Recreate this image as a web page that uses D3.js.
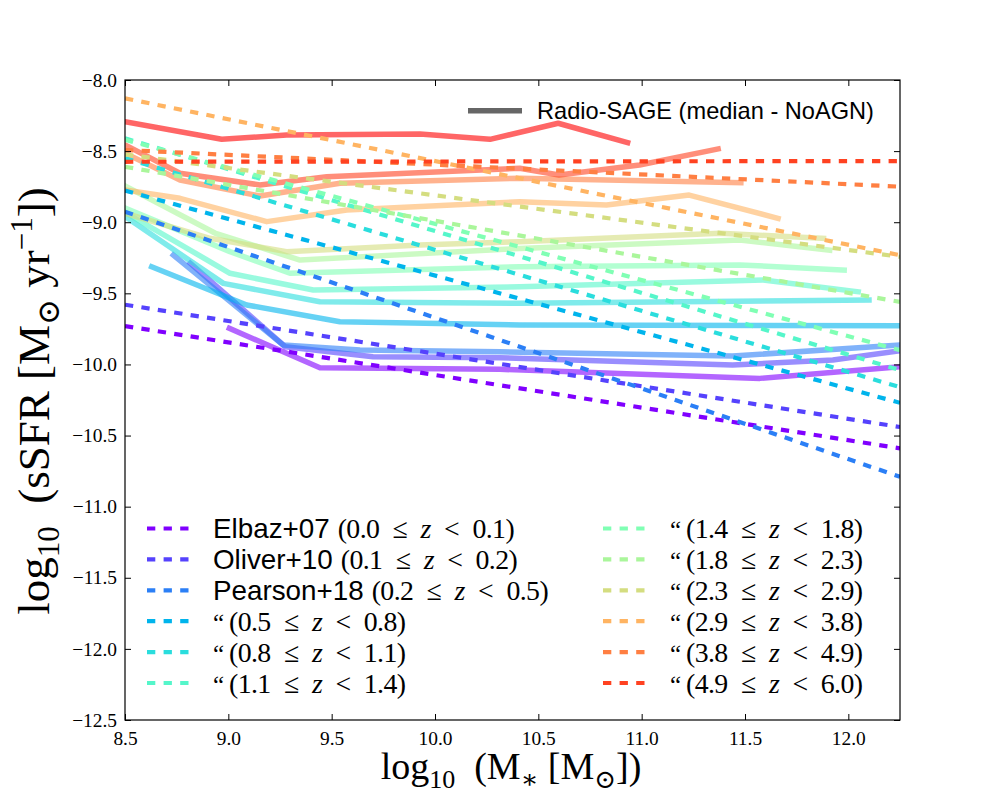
<!DOCTYPE html>
<html><head><meta charset="utf-8">
<script src="https://cdn.jsdelivr.net/npm/d3@7"></script>
<style>body{margin:0;background:#fff}svg{display:block}</style>
</head><body>
<svg id="chart" width="1000" height="800"></svg>
<script>
// ---------- data ----------
const xDomain = [8.5, 12.25];
const yDomain = [-12.5, -8.0];
const xTicks = [8.5, 9.0, 9.5, 10.0, 10.5, 11.0, 11.5, 12.0];
const yTicks = [-12.5, -12.0, -11.5, -11.0, -10.5, -10.0, -9.5, -9.0, -8.5, -8.0];

// observational fits (dashed), evaluated at the two edges of the mass range
const fitMass = [8.5, 12.25];
const fitSSFR = [
  [-9.73, -10.59],
  [-9.58, -10.44],
  [-8.926, -10.79],
  [-8.778, -10.27],
  [-8.55, -10.16],
  [-8.41, -10.04],
  [-8.42, -9.90],
  [-8.61, -9.56],
  [-8.523, -9.243],
  [-8.129, -9.232],
  [-8.492, -8.750],
  [-8.575, -8.570]
];
const fitNames = ["Elbaz+07", "Oliver+10", "Pearson+18", "\u201C", "\u201C", "\u201C",
                  "\u201C", "\u201C", "\u201C", "\u201C", "\u201C", "\u201C"];
const fitZlo = ["0.0", "0.1", "0.2", "0.5", "0.8", "1.1", "1.4", "1.8", "2.3", "2.9", "3.8", "4.9"];
const fitZhi = ["0.1", "0.2", "0.5", "0.8", "1.1", "1.4", "1.8", "2.3", "2.9", "3.8", "4.9", "6.0"];

// Radio-SAGE medians (solid), one array per redshift bin
const sageMass = [
  [9.005, 9.443, 10.314, 11.572, 12.25],
  [8.816, 9.276, 9.70, 10.314, 11.44, 11.925, 12.25],
  [8.734, 9.266, 9.637, 10.314, 11.44, 12.25],
  [8.629, 9.089, 9.54, 10.41, 12.25],
  [8.5, 8.976, 9.443, 10.41, 12.10],
  [8.5, 9.008, 9.411, 10.41, 11.588, 12.048],
  [8.5, 9.008, 9.298, 10.41, 11.475, 11.98],
  [8.5, 8.935, 9.347, 10.41, 11.475, 11.91],
  [8.5, 8.911, 9.282, 9.927, 10.41, 11.38, 11.88],
  [8.5, 8.766, 9.186, 9.573, 10.41, 10.83, 11.23, 11.66],
  [8.5, 8.766, 9.153, 9.54, 10.41, 11.48],
  [8.5, 8.766, 9.153, 9.476, 10.41, 10.60, 10.99, 11.37],
  [8.5, 8.968, 9.282, 9.927, 10.266, 10.596, 10.932]
];
const sageSSFR = [
  [-9.746, -10.023, -10.034, -10.098, -10.016],
  [-9.289, -9.876, -9.946, -9.953, -10.004, -9.969, -9.904],
  [-9.231, -9.864, -9.899, -9.911, -9.941, -9.864],
  [-9.313, -9.582, -9.70, -9.723, -9.728],
  [-8.96, -9.43, -9.559, -9.570, -9.547],
  [-8.93, -9.359, -9.477, -9.454, -9.406, -9.489],
  [-8.90, -9.207, -9.359, -9.313, -9.30, -9.336],
  [-8.745, -9.076, -9.266, -9.184, -9.125, -9.196],
  [-8.937, -9.113, -9.207, -9.16, -9.137, -9.078, -9.113],
  [-8.774, -8.832, -8.996, -8.914, -8.856, -8.879, -8.809, -8.973],
  [-8.515, -8.703, -8.816, -8.726, -8.69, -8.722],
  [-8.457, -8.656, -8.738, -8.68, -8.621, -8.668, -8.598, -8.485],
  [-8.293, -8.417, -8.387, -8.38, -8.417, -8.304, -8.441]
];
const sageLabel = "Radio-SAGE (median - NoAGN)";

// ---------- drawing ----------
const L = 125, R = 900, T = 80, B = 720;
const SERIF = "'Liberation Serif', 'DejaVu Serif', serif";
const SANS = "'Liberation Sans', Arial, Helvetica, sans-serif";
const svg = d3.select("#chart");
const x = d3.scaleLinear().domain(xDomain).range([L, R]);
const y = d3.scaleLinear().domain(yDomain).range([B, T]);

// matplotlib "rainbow" colormap
function rainbow(t) {
  const r = Math.min(1, Math.abs(2 * t - 0.5));
  const g = Math.sin(Math.PI * t);
  const b = Math.cos(Math.PI * t / 2);
  return d3.rgb(Math.round(r * 255), Math.round(g * 255), Math.round(b * 255)).formatHex();
}
const nColours = sageSSFR.length;
const colour = i => rainbow(i / (nColours - 1));

svg.append("rect").attr("width", 1000).attr("height", 800).attr("fill", "#fff");
svg.append("defs").append("clipPath").attr("id", "plotClip")
  .append("rect").attr("x", L).attr("y", T).attr("width", R - L).attr("height", B - T);

const line = d3.line().x(d => x(d[0])).y(d => y(d[1]));
const plot = svg.append("g").attr("clip-path", "url(#plotClip)");

sageSSFR.forEach((vals, i) => {
  const pts = sageMass[i].map((m, j) => [m, vals[j]]);
  plot.append("path").attr("d", line(pts))
    .attr("fill", "none").attr("stroke", colour(i)).attr("stroke-opacity", 0.6)
    .attr("stroke-width", 5.5).attr("stroke-linejoin", "round").attr("stroke-linecap", "square");
});
fitSSFR.forEach((vals, i) => {
  const pts = fitMass.map((m, j) => [m, vals[j]]);
  plot.append("path").attr("d", line(pts))
    .attr("fill", "none").attr("stroke", colour(i))
    .attr("stroke-width", 4.2).attr("stroke-dasharray", "8.3 8.3");
});

// axes
const fmt = d3.format(".1f");
function styleAxis(g) {
  g.attr("font-family", SERIF).attr("font-size", 19.4);
  g.select(".domain").remove();
  g.selectAll(".tick line").attr("stroke", "#000").attr("stroke-width", 1);
  g.selectAll(".tick text").style("font-family", SERIF).style("font-size", "19.4px").attr("fill", "#000");
}
svg.append("g").attr("transform", `translate(0,${B})`)
  .call(d3.axisBottom(x).tickValues(xTicks).tickSize(-6).tickSizeOuter(0).tickPadding(11).tickFormat(fmt))
  .call(styleAxis);
svg.append("g").attr("transform", `translate(0,${T})`)
  .call(d3.axisTop(x).tickValues(xTicks).tickSize(-6).tickSizeOuter(0).tickFormat(""))
  .call(styleAxis);
svg.append("g").attr("transform", `translate(${L},0)`)
  .call(d3.axisLeft(y).tickValues(yTicks).tickSize(-6).tickSizeOuter(0).tickPadding(8).tickFormat(fmt))
  .call(styleAxis);
svg.append("g").attr("transform", `translate(${R},0)`)
  .call(d3.axisRight(y).tickValues(yTicks).tickSize(-6).tickSizeOuter(0).tickFormat(""))
  .call(styleAxis);

svg.append("rect").attr("x", L).attr("y", T).attr("width", R - L).attr("height", B - T)
  .attr("fill", "none").attr("stroke", "#000").attr("stroke-width", 1.2);

// axis labels
const xl = svg.append("text").attr("x", 511).attr("y", 779).attr("text-anchor", "middle")
  .attr("font-family", SERIF).attr("font-size", 38).attr("fill", "#000");
xl.append("tspan").text("log");
xl.append("tspan").attr("font-size", 26).attr("dy", 9).text("10");
xl.append("tspan").attr("dy", -9).text("\u2002(M");
xl.append("tspan").attr("font-size", 26).attr("dy", 9).text("\u2217");
xl.append("tspan").attr("dy", -9).text(" [M");
xl.append("tspan").attr("font-size", 26).attr("dy", 9).text("\u2299");
xl.append("tspan").attr("dy", -9).text("])");

const yl = svg.append("text").attr("transform", "translate(49,401) rotate(-90)").attr("text-anchor", "middle")
  .attr("font-family", SERIF).attr("font-size", 45).attr("fill", "#000");
yl.append("tspan").text("log");
yl.append("tspan").attr("font-size", 31).attr("dy", 10).text("10");
yl.append("tspan").attr("dy", -10).text("\u2002(sSFR [M");
yl.append("tspan").attr("font-size", 31).attr("dy", 10).text("\u2299");
yl.append("tspan").attr("dy", -10).text(" yr");
yl.append("tspan").attr("font-size", 31).attr("dy", -17).text("\u22121");
yl.append("tspan").attr("dy", 17).text("])");

// top-right legend
const lg1 = svg.append("g");
lg1.append("line").attr("x1", 468).attr("x2", 522).attr("y1", 110.7).attr("y2", 110.7)
  .attr("stroke", "#000").attr("stroke-opacity", 0.6).attr("stroke-width", 5.5);
lg1.append("text").attr("x", 537).attr("y", 119).attr("font-family", SANS).attr("font-size", 23.6)
  .attr("fill", "#000").text(sageLabel);

// bottom legend
const lg2 = svg.append("g");
fitNames.forEach((name, i) => {
  const col = i < 6 ? 0 : 1, row = i % 6;
  const hx = col ? 603 : 147, tx = col ? 670 : 213;
  const yy = 528.5 + row * 30.9;
  lg2.append("line").attr("x1", hx).attr("x2", hx + 42).attr("y1", yy).attr("y2", yy)
    .attr("stroke", colour(i)).attr("stroke-width", 4.2).attr("stroke-dasharray", "8.3 8.3");
  let cur = tx;
  if (name === "\u201C") {
    lg2.append("text").attr("x", cur).attr("y", yy + 9.5).attr("font-family", SERIF)
      .attr("font-size", 25).attr("fill", "#000").text(name);
    cur += 16;
  } else {
    const t = lg2.append("text").attr("x", cur).attr("y", yy + 9.5).attr("font-family", SANS)
      .attr("font-size", 27.8).attr("fill", "#000").text(name);
    cur += t.node().getComputedTextLength() + 8;
  }
  const m = lg2.append("text").attr("x", cur).attr("y", yy + 9.5).attr("font-family", SERIF)
    .attr("font-size", 27.8).attr("fill", "#000")
    .attr("textLength", 177).attr("lengthAdjust", "spacing");
  m.append("tspan").text("(" + fitZlo[i] + "\u2002\u2264\u2002");
  m.append("tspan").attr("font-style", "italic").text("z");
  m.append("tspan").text("\u2002<\u2002" + fitZhi[i] + ")");
});
</script>
</body></html>
